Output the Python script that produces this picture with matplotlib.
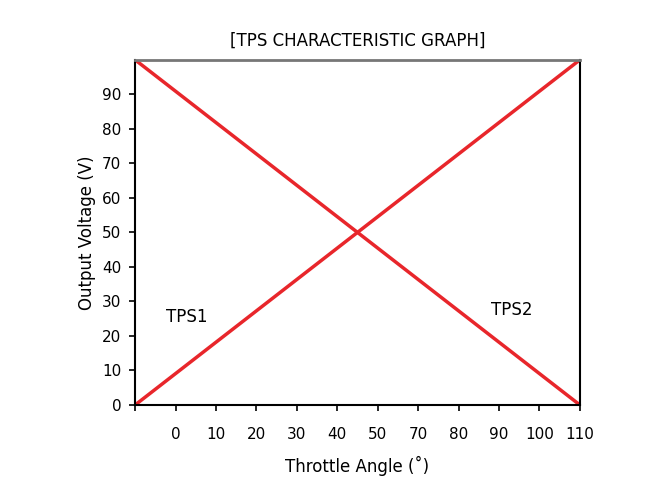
import matplotlib
matplotlib.use("Agg")
import matplotlib.pyplot as plt

x_labels = ['', '0', '10', '20', '30', '40', '50', '70', '80', '90', '100', '110']
tps1 = [0, 100]
tps2 = [100, 0]
y_ticks = [0, 10, 20, 30, 40, 50, 60, 70, 80, 90]

fig = plt.figure(figsize=(6.5, 4.95), dpi=100)
ax = fig.add_axes([0.208, 0.182, 0.684, 0.697])
xs = [0, len(x_labels) - 1]
ax.plot(xs, tps1, color='#e8262b', lw=2.5, solid_capstyle='butt')
ax.plot(xs, tps2, color='#e8262b', lw=2.5, solid_capstyle='butt')
ax.set_xlim(0, len(x_labels) - 1)
ax.set_ylim(0, 100)
ax.set_xticks(range(len(x_labels)))
ax.set_xticklabels(x_labels, fontsize=11)
ax.set_yticks(y_ticks)
ax.set_yticklabels([str(v) for v in y_ticks], fontsize=11)
ax.tick_params(direction='out', length=4, width=1.2)
ax.tick_params(axis='x', pad=12)
ax.tick_params(axis='y', pad=6)
for s in ['left', 'bottom', 'right']:
    ax.spines[s].set_linewidth(1.5)
    ax.spines[s].set_color('black')
ax.spines['top'].set_color('#777777')
ax.spines['top'].set_linewidth(2)
ax.set_title('[TPS CHARACTERISTIC GRAPH]', fontsize=12, pad=10)
ax.set_ylabel('Output Voltage (V)', fontsize=12)
ax.set_xlabel('Throttle Angle (˚)', fontsize=12, labelpad=10)
ax.text(0.75, 24, 'TPS1', fontsize=12)
ax.text(8.8, 26, 'TPS2', fontsize=12)
fig.savefig('out.png', dpi=100)
